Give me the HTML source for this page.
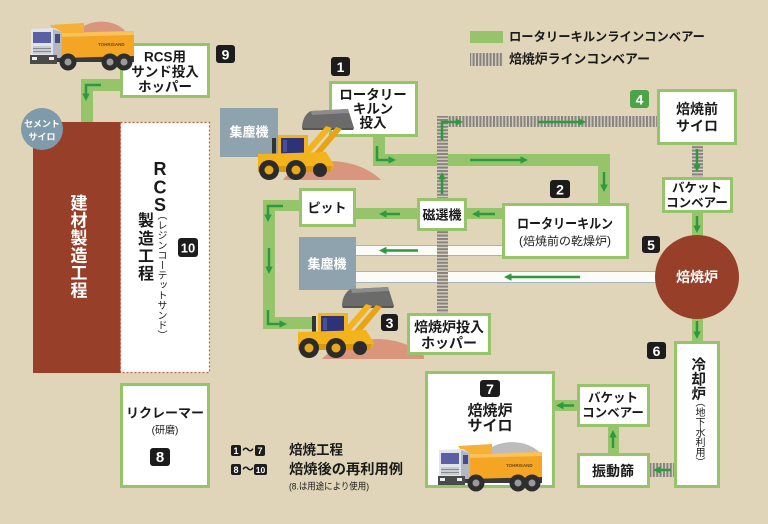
<!DOCTYPE html>
<html><head><meta charset="utf-8">
<style>
html,body{margin:0;padding:0;background:#e0d5b9;}
#c{position:relative;width:768px;height:524px;overflow:hidden;background:#e0d5b9;font-family:"Liberation Sans","Noto Sans CJK JP",sans-serif;}
svg{position:absolute;left:0;top:0;}
.v{position:absolute;writing-mode:vertical-rl;line-height:1;white-space:nowrap;font-family:"Liberation Sans","Noto Sans CJK JP",sans-serif;}
</style></head><body><div id="c">
<svg width="768" height="524" viewBox="0 0 768 524" font-family="'Liberation Sans','Noto Sans CJK JP',sans-serif">
<defs>
 <pattern id="sv" width="3.4" height="20" patternUnits="userSpaceOnUse"><rect width="3.4" height="20" fill="#d6cfbf"/><rect width="2" height="20" fill="#88837e"/></pattern>
 <pattern id="sh" width="20" height="3.4" patternUnits="userSpaceOnUse"><rect width="20" height="3.4" fill="#d6cfbf"/><rect width="20" height="2" fill="#88837e"/></pattern>
 <marker id="ah" viewBox="0 0 10 10" refX="6" refY="5" markerWidth="3" markerHeight="3" orient="auto"><path d="M0,0 L10,5 L0,10 Z" fill="#2e9a3f"/></marker>
 <g id="loader">
  <path d="M44,20 C44,12 48,5 53,3 L90,1 L96,20 Z" fill="#6b6b6b"/>
  <path d="M53,3 L90,1 L91,5 L54,7 Z" fill="#8c8c8c"/>
  <path d="M44,20 L96,20 L95,22 L45,22 Z" fill="#555"/>
  <polygon points="40,50 46,52 74,20 68,18" fill="#f3b31c"/>
  <polygon points="50,52 56,54 84,21 78,19" fill="#e9a414"/>
  <rect x="20" y="27" width="30" height="25" fill="#f3b31c"/>
  <rect x="23" y="30" width="23" height="20" fill="#2e3276"/>
  <rect x="25" y="32" width="4" height="12" fill="#4a4f9a"/>
  <rect x="14" y="30" width="4" height="16" fill="#333"/>
  <path d="M0,46 L68,44 L76,57 L72,64 L0,64 Z" fill="#f3b31c"/>
  <path d="M0,58 L74,58 L72,64 L0,64 Z" fill="#d9980f"/>
  <circle cx="11" cy="62" r="10" fill="#2b2b2b"/><circle cx="11" cy="62" r="4.5" fill="#e8a818"/>
  <circle cx="38" cy="62" r="10" fill="#2b2b2b"/><circle cx="38" cy="62" r="4.5" fill="#e8a818"/>
  <circle cx="62" cy="62" r="7" fill="#2b2b2b"/>
 </g>
 <g id="truck">
  <rect x="54" y="54" width="80" height="8" fill="#3a3a3a"/>
  <path d="M58,33 L134,31 L134,56 L62,58 Z" fill="#f4a524"/>
  <path d="M58,33 L134,31 L134,35 L58,37 Z" fill="#f9c25a"/>
  <path d="M50,25 L84,23 L84,33 L56,33 Z" fill="#f6b035"/>
  <path d="M31,29 L55,28 L62,32 L62,58 L31,58 Z" fill="#e2e4ea"/>
  <path d="M53,29 L62,32 L62,58 L53,58Z" fill="#b4b8c2"/>
  <rect x="33" y="32" width="18" height="11" fill="#5a60a4"/>
  <rect x="55" y="34" width="5" height="9" fill="#474c86"/>
  <rect x="33" y="46" width="18" height="8" fill="#c9ccd3"/>
  <rect x="33" y="48" width="18" height="1" fill="#888"/><rect x="33" y="51" width="18" height="1" fill="#888"/>
  <rect x="30" y="55" width="27" height="9" fill="#4a4a4a"/>
  <rect x="32" y="57" width="5" height="3" fill="#eee"/><rect x="49" y="57" width="5" height="3" fill="#eee"/>
  <circle cx="68" cy="62" r="8.5" fill="#2e2e2e"/><circle cx="68" cy="62" r="3.5" fill="#9a9a9a"/>
  <circle cx="110" cy="62" r="8.5" fill="#2e2e2e"/><circle cx="110" cy="62" r="3.5" fill="#9a9a9a"/>
  <circle cx="124" cy="62" r="8.5" fill="#2e2e2e"/><circle cx="124" cy="62" r="3.5" fill="#9a9a9a"/>
  <text x="98" y="46" font-size="4.5" font-weight="bold" fill="#6b4a10">TOHRISAND</text>
 </g>
</defs>

<!-- green bands -->
<g fill="#95c46b">
 <rect x="81" y="79" width="12" height="44"/>
 <rect x="81" y="79" width="40" height="12"/>
 <rect x="373" y="136" width="12" height="30"/>
 <rect x="373" y="154" width="237" height="12"/>
 <rect x="598" y="154" width="12" height="50"/>
 <rect x="355" y="208" width="148" height="11"/>
 <rect x="263" y="200" width="37" height="11"/>
 <rect x="263" y="200" width="12" height="129"/>
 <rect x="263" y="317" width="50" height="12"/>
 <rect x="692" y="212" width="11" height="25"/>
 <rect x="692" y="317" width="11" height="25"/>
 <rect x="608" y="426" width="11" height="28"/>
 <rect x="554" y="400" width="24" height="11"/>
</g>

<!-- pipes -->
<rect x="355" y="245.5" width="148" height="10" fill="#fbfbf8" stroke="#a3b4bf"/>
<rect x="355" y="271.5" width="310" height="11" fill="#fbfbf8" stroke="#a3b4bf"/>

<!-- striped conveyors -->
<rect x="437" y="116" width="220" height="11" fill="url(#sv)"/>
<rect x="437" y="116" width="11" height="197" fill="url(#sh)"/>
<rect x="692" y="145" width="11" height="33" fill="url(#sh)"/>
<rect x="650" y="463" width="25" height="14" fill="url(#sv)"/>

<!-- legend -->
<rect x="470" y="31" width="33" height="12" fill="#95c46b"/>
<rect x="470" y="53" width="33" height="13" fill="url(#sv)"/>
<text x="509" y="37" font-size="12.5" font-weight="bold" fill="#1a1a1a" dominant-baseline="central" textLength="196" lengthAdjust="spacingAndGlyphs">ロータリーキルンラインコンベアー</text>
<text x="509" y="59" font-size="13" font-weight="bold" fill="#1a1a1a" dominant-baseline="central" textLength="141" lengthAdjust="spacingAndGlyphs">焙焼炉ラインコンベアー</text>

<!-- brown block and RCS area -->
<rect x="33" y="122" width="88" height="251" fill="#983f29"/>
<rect x="120.5" y="122.5" width="89" height="250" fill="#fff" stroke="#c65a45" stroke-width="1.2" stroke-dasharray="2 2"/>
<circle cx="42" cy="129" r="21" fill="#7f9ba9"/>
<text x="42" y="124" font-size="9" font-weight="bold" fill="#fff" text-anchor="middle" dominant-baseline="central">セメント</text>
<text x="42" y="137" font-size="9" font-weight="bold" fill="#fff" text-anchor="middle" dominant-baseline="central">サイロ</text>

<!-- grey dust collectors -->
<rect x="220" y="108" width="58" height="49" fill="#8fa3ae"/>
<rect x="299" y="237" width="57" height="53" fill="#8fa3ae"/>
<text x="249" y="132" font-size="13" font-weight="bold" fill="#fff" text-anchor="middle" dominant-baseline="central">集塵機</text>
<text x="327" y="264" font-size="13" font-weight="bold" fill="#fff" text-anchor="middle" dominant-baseline="central">集塵機</text>

<!-- furnace -->
<circle cx="697" cy="277" r="42" fill="#983f29"/>
<text x="697" y="277" font-size="14" font-weight="bold" fill="#fff" text-anchor="middle" dominant-baseline="central">焙焼炉</text>

<!-- sand piles -->
<path d="M283,180 C298,158 352,152 381,180 Z" fill="#d9967c"/>
<path d="M322,359 C342,336 398,330 424,356 L424,359 Z" fill="#d9967c"/>

<!-- white boxes -->
<g fill="#fff" stroke="#95c46b" stroke-width="3">
 <rect x="121.5" y="44.5" width="87" height="52"/>
 <rect x="330.5" y="82.5" width="86" height="53"/>
 <rect x="658.5" y="90.5" width="77" height="53"/>
 <rect x="663.5" y="178.5" width="68" height="33"/>
 <rect x="503.5" y="204.5" width="124" height="53"/>
 <rect x="418.5" y="199.5" width="47" height="30"/>
 <rect x="300.5" y="189.5" width="54" height="36"/>
 <rect x="408.5" y="314.5" width="81" height="39"/>
 <rect x="675.5" y="342.5" width="43" height="144"/>
 <rect x="578.5" y="454.5" width="70" height="32"/>
 <rect x="578.5" y="385.5" width="70" height="40"/>
 <rect x="426.5" y="372.5" width="127" height="114"/>
 <rect x="121.5" y="384.5" width="87" height="102"/>
</g>

<!-- arrows -->
<g fill="none" stroke="#2e9a3f" stroke-width="2.5" marker-end="url(#ah)">
 <polyline points="101,85 86,85 86,98"/>
 <polyline points="377,146 377,160 393,160"/>
 <line x1="470" y1="160" x2="525" y2="160"/>
 <line x1="604" y1="172" x2="604" y2="189"/>
 <line x1="400" y1="214" x2="382" y2="214"/>
 <line x1="495" y1="214" x2="475" y2="214"/>
 <polyline points="283,206 268,206 268,219"/>
 <line x1="269" y1="248" x2="269" y2="271"/>
 <polyline points="268,310 268,324 284,324"/>
 <line x1="418" y1="250.5" x2="382" y2="250.5"/>
 <line x1="580" y1="277" x2="507" y2="277"/>
 <polyline points="442,140 442,122 460,122"/>
 <line x1="538" y1="122" x2="583" y2="122"/>
 <line x1="442" y1="194" x2="442" y2="175"/>
 <line x1="697" y1="149" x2="697" y2="169"/>
 <line x1="697" y1="216" x2="697" y2="230"/>
 <line x1="697" y1="321" x2="697" y2="336"/>
 <line x1="613" y1="448" x2="613" y2="433"/>
 <line x1="574" y1="405.5" x2="559" y2="405.5"/>
 <line x1="671" y1="470" x2="656" y2="470"/>
</g>

<!-- loaders -->
<use href="#loader" transform="translate(258,108)"/>
<use href="#loader" transform="translate(298,286)"/>

<!-- trucks -->
<path d="M74,36 C84,17 118,17 128,35 Z" fill="#d8967e"/>
<use href="#truck"/>
<path d="M482,457 C492,438 528,437 542,455 Z" fill="#bcbcbc"/>
<use href="#truck" transform="translate(408,421)"/>

<!-- box texts -->
<g font-weight="bold" fill="#1a1a1a" text-anchor="middle" dominant-baseline="central">
 <text x="165" y="57" font-size="13.5">RCS用</text>
 <text x="165" y="72" font-size="13.5">サンド投入</text>
 <text x="165" y="87" font-size="13.5">ホッパー</text>
 <text x="373" y="95" font-size="13.5">ロータリー</text>
 <text x="373" y="109" font-size="13.5">キルン</text>
 <text x="373" y="123" font-size="13.5">投入</text>
 <text x="697" y="109" font-size="14">焙焼前</text>
 <text x="697" y="126" font-size="14">サイロ</text>
 <text x="697" y="188" font-size="12.5">バケット</text>
 <text x="697" y="203" font-size="12.5">コンベアー</text>
 <text x="565" y="224" font-size="13.5" textLength="96" lengthAdjust="spacingAndGlyphs">ロータリーキルン</text>
 <text x="565" y="242" font-size="11.5" font-weight="normal" textLength="92" lengthAdjust="spacingAndGlyphs">(焙焼前の乾燥炉)</text>
 <text x="442" y="215" font-size="13">磁選機</text>
 <text x="327" y="208" font-size="13">ピット</text>
 <text x="449" y="327" font-size="14">焙焼炉投入</text>
 <text x="449" y="343" font-size="14">ホッパー</text>
 <text x="613" y="398" font-size="12.5">バケット</text>
 <text x="613" y="413" font-size="12.5">コンベアー</text>
 <text x="613" y="471" font-size="14">振動篩</text>
 <text x="490" y="411" font-size="15">焙焼炉</text>
 <text x="490" y="426" font-size="15">サイロ</text>
 <text x="165" y="413" font-size="13">リクレーマー</text>
 <text x="165" y="431" font-size="10" font-weight="normal">(研磨)</text>
 <text x="160" y="169" font-size="18">R</text>
 <text x="160" y="187.5" font-size="18">C</text>
 <text x="160" y="205" font-size="18">S</text>
</g>

<!-- badges -->
<g fill="#1c1c1c">
 <rect x="216" y="45" width="19" height="18" rx="3"/>
 <rect x="331" y="57" width="19" height="19" rx="3"/>
 <rect x="550" y="180" width="20" height="18" rx="3"/>
 <rect x="642" y="236" width="18" height="17" rx="3"/>
 <rect x="647" y="342" width="19" height="17" rx="3"/>
 <rect x="381" y="314" width="17" height="17" rx="3"/>
 <rect x="480" y="380" width="20" height="17" rx="3"/>
 <rect x="150" y="448" width="20" height="18" rx="3"/>
 <rect x="178" y="238" width="20" height="19" rx="3"/>
 <rect x="231" y="445" width="10" height="11" rx="2"/>
 <rect x="255" y="445" width="10" height="11" rx="2"/>
 <rect x="231" y="464" width="10" height="11" rx="2"/>
 <rect x="254" y="464" width="13" height="11" rx="2"/>
</g>
<rect x="630" y="90" width="19" height="18" rx="3" fill="#4da447"/>
<g font-weight="bold" fill="#fff" text-anchor="middle" dominant-baseline="central">
 <text x="225.5" y="54.5" font-size="14">9</text>
 <text x="340.5" y="67" font-size="14">1</text>
 <text x="560" y="189.5" font-size="14">2</text>
 <text x="651" y="245" font-size="14">5</text>
 <text x="656.5" y="351" font-size="14">6</text>
 <text x="389.5" y="323" font-size="14">3</text>
 <text x="490" y="389" font-size="14">7</text>
 <text x="160" y="457.5" font-size="15">8</text>
 <text x="188" y="248" font-size="13">10</text>
 <text x="639.5" y="99.5" font-size="14">4</text>
 <text x="236" y="451" font-size="9">1</text>
 <text x="260" y="451" font-size="9">7</text>
 <text x="236" y="470" font-size="9">8</text>
 <text x="260.5" y="470" font-size="8.5">10</text>
</g>

<!-- bottom legend -->
<g fill="#1a1a1a" dominant-baseline="central">
 <text x="248" y="450" font-size="12" font-weight="bold" text-anchor="middle">〜</text>
 <text x="248" y="469" font-size="12" font-weight="bold" text-anchor="middle">〜</text>
 <text x="289" y="450" font-size="13.5" font-weight="bold" textLength="54" lengthAdjust="spacingAndGlyphs">焙焼工程</text>
 <text x="289" y="469" font-size="14" font-weight="bold" textLength="114" lengthAdjust="spacingAndGlyphs">焙焼後の再利用例</text>
 <text x="289" y="487" font-size="9.5" textLength="80" lengthAdjust="spacingAndGlyphs">(8.は用途により使用)</text>
</g>
</svg>

<div class="v" style="left:68.5px;top:194px;font-size:17px;letter-spacing:0.5px;color:#fff;font-weight:bold;">建材製造工程</div>
<div class="v" style="left:135px;top:212px;font-size:16px;letter-spacing:1.7px;color:#1a1a1a;font-weight:bold;">製造工程</div>
<div class="v" style="left:155px;top:210px;font-size:10px;color:#1a1a1a;">（レジンコーテットサンド）</div>
<div class="v" style="left:689.75px;top:357px;font-size:14.5px;color:#1a1a1a;font-weight:bold;">冷却炉</div>
<div class="v" style="left:693px;top:397px;font-size:10px;color:#1a1a1a;">（地下水利用）</div>
</div></body></html>
